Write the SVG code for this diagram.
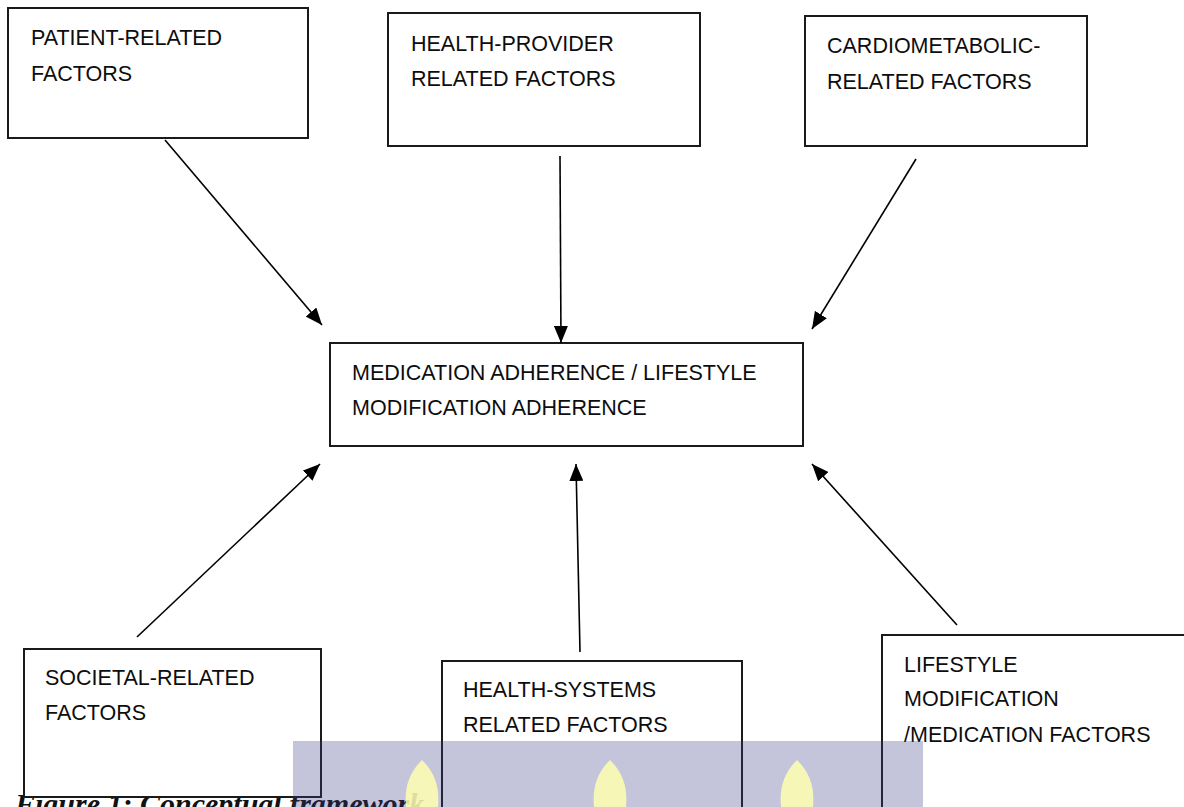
<svg xmlns="http://www.w3.org/2000/svg" width="1184" height="807" viewBox="0 0 1184 807">
  <style>
    .box { fill: #ffffff; stroke: #1a1a1a; stroke-width: 2; }
    .lbl { font-family: "Liberation Sans", Arial, sans-serif; font-size: 21.5px; fill: #0d0d0d; }
    .conn { stroke: #000000; stroke-width: 1.6; fill: none; marker-end: url(#arrow); }
    .cap { font-family: "Liberation Serif", "Times New Roman", serif; font-size: 30px; font-weight: bold; font-style: italic; fill: #111111; }
  </style>
  <defs>
    <marker id="arrow" markerUnits="userSpaceOnUse" markerWidth="18" markerHeight="14" refX="17" refY="7" orient="auto">
      <path d="M0,0 L17,7 L0,14 z" fill="#000000"/>
    </marker>
  </defs>
  <rect width="1184" height="807" fill="#ffffff"/>

  <text class="cap" x="15" y="814">Figure 1: Conceptual framework</text>

  <g id="patient">
    <rect class="box" x="8" y="8" width="300" height="130"/>
    <text class="lbl" x="31" y="45">PATIENT-RELATED</text>
    <text class="lbl" x="31" y="81">FACTORS</text>
  </g>
  <g id="provider">
    <rect class="box" x="388" y="13" width="312" height="133"/>
    <text class="lbl" x="411" y="51">HEALTH-PROVIDER</text>
    <text class="lbl" x="411" y="86">RELATED FACTORS</text>
  </g>
  <g id="cardio">
    <rect class="box" x="805" y="16" width="282" height="130"/>
    <text class="lbl" x="827" y="53">CARDIOMETABOLIC-</text>
    <text class="lbl" x="827" y="89">RELATED FACTORS</text>
  </g>
  <g id="adherence">
    <rect class="box" x="330" y="343" width="473" height="103"/>
    <text class="lbl" x="352" y="380">MEDICATION ADHERENCE / LIFESTYLE</text>
    <text class="lbl" x="352" y="415">MODIFICATION ADHERENCE</text>
  </g>
  <g id="societal">
    <rect class="box" x="24" y="649" width="297" height="148"/>
    <text class="lbl" x="45" y="685">SOCIETAL-RELATED</text>
    <text class="lbl" x="45" y="720">FACTORS</text>
  </g>
  <g id="systems">
    <rect class="box" x="442" y="661" width="300" height="160"/>
    <text class="lbl" x="463" y="697">HEALTH-SYSTEMS</text>
    <text class="lbl" x="463" y="732">RELATED FACTORS</text>
  </g>
  <g id="lifestyle">
    <rect class="box" x="882" y="635" width="320" height="190"/>
    <text class="lbl" x="904" y="672">LIFESTYLE</text>
    <text class="lbl" x="904" y="706">MODIFICATION</text>
    <text class="lbl" x="904" y="742">/MEDICATION FACTORS</text>
  </g>

  <g id="connectors">
    <line class="conn" x1="165" y1="140" x2="322" y2="325"/>
    <line class="conn" x1="560" y1="156" x2="561" y2="343"/>
    <line class="conn" x1="916" y1="159" x2="812" y2="329"/>
    <line class="conn" x1="137" y1="637" x2="320" y2="464"/>
    <line class="conn" x1="580" y1="652" x2="576" y2="464"/>
    <line class="conn" x1="957" y1="625" x2="812" y2="464"/>
  </g>

  <g id="watermark">
    <rect x="293" y="741" width="630" height="66" fill="#3a3a85" opacity="0.3"/>
    <g fill="#ffffb0" opacity="0.85">
      <path d="M422,760 C434,772 440,786 438,807 L406,807 C404,786 410,772 422,760 z"/>
      <path d="M610,760 C622,772 628,786 626,807 L594,807 C592,786 598,772 610,760 z"/>
      <path d="M797,760 C809,772 815,786 813,807 L781,807 C779,786 785,772 797,760 z"/>
    </g>
  </g>
</svg>
